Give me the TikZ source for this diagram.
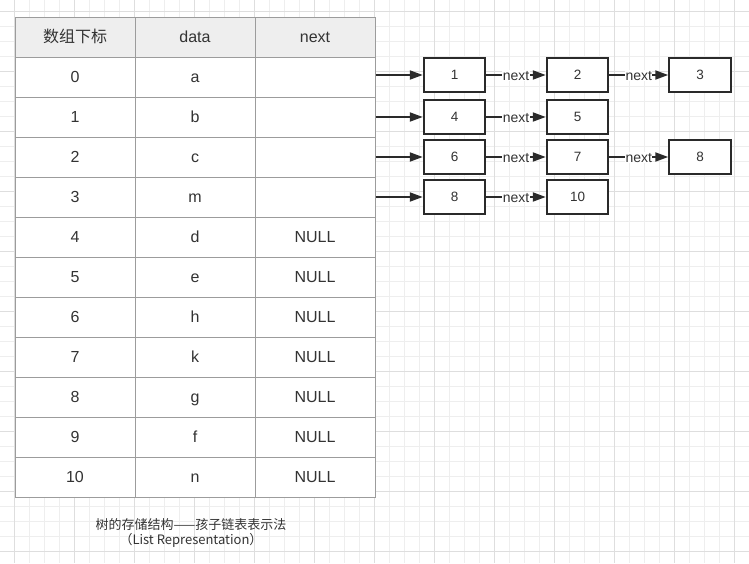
\documentclass[tikz,border=0pt]{standalone}
\usepackage{fontspec}
\setmainfont{Liberation Sans}
\newfontfamily\cjk{Noto Sans CJK SC}
\usetikzlibrary{arrows.meta}
\definecolor{gridminor}{HTML}{EEEEEE}
\definecolor{gridmajor}{HTML}{DEDEDE}
\definecolor{tableline}{HTML}{9C9C9C}
\definecolor{headfill}{HTML}{EEEEEE}
\definecolor{ink}{HTML}{333333}
\definecolor{arrowink}{HTML}{2A2A2A}
\begin{document}
\begin{tikzpicture}[x=1pt,y=-1pt,
  cell/.style={draw=tableline, line width=1pt, fill=white, minimum width=120pt, minimum height=40pt, inner sep=0pt, text=ink, text height=11.5pt, text depth=0pt, font=\fontsize{16}{19}\selectfont},
  head/.style={cell, fill=headfill},
  lbox/.style={draw=arrowink, line width=2pt, fill=white, minimum width=61.5pt, minimum height=34.5pt, inner sep=0pt, text=ink, text height=9.7pt, text depth=0pt, font=\fontsize{13.5}{16}\selectfont},
  link/.style={draw=arrowink, line width=2pt, -{Triangle[length=13pt,width=9pt]}},
  lbl/.style={fill=white, inner sep=0.5pt, text=ink, text height=10pt, text depth=0pt, font=\fontsize{14}{16}\selectfont},
  caption/.style={align=center, text=ink, font=\cjk\fontsize{13}{15}\selectfont}
]
\useasboundingbox (0,0) rectangle (749,563);
\fill[white] (0,0) rectangle (749,563);
% grid
\foreach \k in {0,...,49} \draw[gridminor, line width=1pt] ({14.5+15*\k},0) -- ({14.5+15*\k},563);
\foreach \k in {0,...,36} \draw[gridminor, line width=1pt] (0,{11.3+15*\k}) -- (749,{11.3+15*\k});
\foreach \k in {0,4,...,48} \draw[gridmajor, line width=1pt] ({14.5+15*\k},0) -- ({14.5+15*\k},563);
\foreach \k in {0,4,...,36} \draw[gridmajor, line width=1pt] (0,{11.3+15*\k}) -- (749,{11.3+15*\k});
% table header
\node[head] (h0) at (75,37) {\cjk 数组下标};
\node[head] (h1) at (195,37) {data};
\node[head] (h2) at (315,37) {next};
% table rows
\foreach \r/\d/\n in {0/a/,1/b/,2/c/,3/m/,4/d/NULL,5/e/NULL,6/h/NULL,7/k/NULL,8/g/NULL,9/f/NULL,10/n/NULL} {
  \node[cell] (i\r) at (75,{77+40*\r}) {\r};
  \node[cell] (d\r) at (195,{77+40*\r}) {\d};
  \node[cell] (n\r) at (315,{77+40*\r}) {\n};
}
% linked boxes
\node[lbox] (b11) at (454.5,75) {1};
\node[lbox] (b12) at (577.5,75) {2};
\node[lbox] (b13) at (700,75) {3};
\node[lbox] (b21) at (454.5,117) {4};
\node[lbox] (b22) at (577.5,117) {5};
\node[lbox] (b31) at (454.5,157) {6};
\node[lbox] (b32) at (577.5,157) {7};
\node[lbox] (b33) at (700,157) {8};
\node[lbox] (b41) at (454.5,197) {8};
\node[lbox] (b42) at (577.5,197) {10};
% arrows from table
\draw[link] (n0.east |- b11.west) -- (b11.west);
\draw[link] (n1.east |- b21.west) -- (b21.west);
\draw[link] (n2.east |- b31.west) -- (b31.west);
\draw[link] (n3.east |- b41.west) -- (b41.west);
% next arrows
\draw[link] (b11.east) -- node[lbl]{next} (b12.west);
\draw[link] (b12.east) -- node[lbl]{next} (b13.west);
\draw[link] (b21.east) -- node[lbl]{next} (b22.west);
\draw[link] (b31.east) -- node[lbl]{next} (b32.west);
\draw[link] (b32.east) -- node[lbl]{next} (b33.west);
\draw[link] (b41.east) -- node[lbl]{next} (b42.west);
% caption
\node[caption] (cap) at (191,533) {树的存储结构——孩子链表表示法\\（List Representation）};
\end{tikzpicture}
\end{document}
